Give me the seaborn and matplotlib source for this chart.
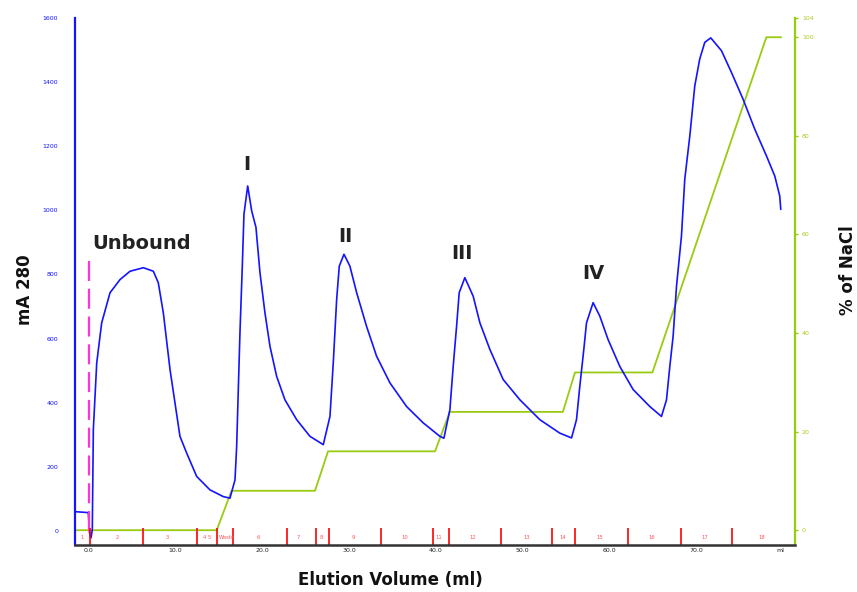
import numpy as np
import pandas as pd
import matplotlib
matplotlib.use("Agg")
import matplotlib.pyplot as plt
import seaborn as sns

sns.set_style("white")
plt.rcParams['font.family'] = ['DejaVu Sans']

# UV absorbance trace
uv_ml = [-1.49, 0.03, 0.17, 0.34, 0.49, 0.61, 1.00, 1.57, 2.53, 3.68, 4.83, 6.36, 7.51, 8.08,
         8.66, 9.43, 10.57, 11.34, 12.49, 14.02, 15.55, 16.32, 16.90, 17.09, 17.47, 17.74,
         17.93, 18.36, 18.82, 19.31, 19.77, 20.34, 20.92, 21.69, 22.64, 23.99, 25.52, 27.05,
         27.82, 28.20, 28.59, 28.89, 29.43, 30.11, 30.89, 32.03, 33.18, 34.71, 36.63, 38.54,
         40.46, 40.92, 41.61, 41.99, 42.38, 42.68, 43.33, 44.29, 45.06, 46.21, 47.74, 49.66,
         51.95, 54.25, 55.60, 56.17, 56.55, 57.01, 57.32, 58.08, 58.85, 59.80, 61.15, 62.68,
         64.60, 65.94, 66.52, 66.90, 67.28, 67.67, 68.24, 68.62, 69.20, 69.77, 70.34, 70.92,
         71.61, 72.84, 73.99, 75.32, 76.67, 78.01, 78.97, 79.54, 79.66]
uv_mau = [60, 57, -6, -22, 3, 316, 524, 649, 743, 784, 810, 821, 810, 774,
          680, 503, 295, 243, 170, 128, 107, 102, 159, 263, 618, 826,
          988, 1076, 998, 947, 806, 681, 576, 482, 409, 347, 295, 269,
          357, 524, 722, 826, 863, 826, 743, 638, 545, 462, 388, 337,
          295, 289, 378, 513, 638, 743, 790, 732, 649, 566, 472, 409,
          347, 305, 290, 347, 451, 566, 649, 712, 670, 597, 513, 441,
          388, 357, 409, 513, 607, 763, 920, 1097, 1232, 1388, 1472, 1524,
          1538, 1498, 1430, 1347, 1253, 1170, 1107, 1045, 1003]

# NaCl step gradient
nacl_ml = [-1.5, 14.8, 16.5, 26.1, 27.6, 39.9, 41.6, 54.6, 56.0, 64.9, 78.0, 79.7]
nacl_pct = [0, 0, 8, 8, 16, 16, 24, 24, 32, 32, 100, 100]

# fraction marks
frac_lines = [0.23, 6.29, 12.49, 14.86, 16.70, 22.84, 26.21, 27.70, 33.64, 39.62, 41.49,
              47.47, 53.30, 55.98, 62.07, 68.13, 74.02]
frac_names = ["1", "2", "3", "4", "5", "Waste", "6", "7", "8", "9", "10", "11", "12",
              "13", "14", "15", "16", "17", "18"]
frac_pos = [-0.72, 3.33, 9.08, 13.33, 13.94, 15.92, 19.54, 24.14, 26.78, 30.46, 36.44,
            40.34, 44.25, 50.46, 54.6, 58.85, 64.83, 70.92, 77.47]

peak_names = ["Unbound", "I", "II", "III", "IV"]
peak_ml = [6.2, 18.28, 29.54, 42.99, 58.16]
peak_mau = [898, 1142, 917, 864, 802]

inject_ml = 0.1
inject_top = 862

blue = "#1414ff"
green = "#99cc11"

uv_df = pd.DataFrame({"ml": uv_ml, "mau": uv_mau})
salt_df = pd.DataFrame({"ml": nacl_ml, "pct": nacl_pct})

fig = plt.figure(figsize=(8.57, 5.92), dpi=100)
ax = fig.add_axes([0.0875, 0.0794, 0.8402, 0.8902])
ax2 = ax.twinx()

sns.lineplot(data=salt_df, x="ml", y="pct", ax=ax2, color=green, lw=1.3,
             sort=False, estimator=None)
sns.lineplot(data=uv_df, x="ml", y="mau", ax=ax, color=blue, lw=1.2,
             sort=False, estimator=None)
ax.set_zorder(ax2.get_zorder() + 1)
ax.patch.set_visible(False)

ax.vlines(inject_ml, 0, inject_top, colors="#ff33dd", lw=1.6, linestyles=(0, (9, 3.5)))

ax.set_xlim(-1.5, 81.3)
ax.set_ylim(-44, 1600)
ax2.set_ylim(-3.0, 103.9)

# fraction collector marks
xt = ax.get_xaxis_transform()
ax.vlines(frac_lines, 0, 0.032, colors="red", lw=1.2, transform=xt)
for name, pos in zip(frac_names, frac_pos):
    ax.text(pos, 0.015, name, color="#ff5555", fontsize=3.8, ha="center", va="center",
            transform=xt)

for name, x, y in zip(peak_names, peak_ml, peak_mau):
    ax.text(x, y, name, fontsize=14, fontweight="bold", color="#222222",
            ha="center", va="center")

xticks = [0, 10, 20, 30, 40, 50, 60, 70, 79.6]
ax.set_xticks(xticks)
ax.set_xticklabels(["0.0", "10.0", "20.0", "30.0", "40.0", "50.0", "60.0", "70.0", "ml"])
ax.tick_params(axis="x", length=0, pad=2, labelsize=4.5, labelcolor="#222222")

ax.set_yticks(np.arange(0, 1601, 200))
ax.set_yticks([400, 800, 1200], minor=True)
ax.tick_params(axis="y", which="major", length=0, pad=12, labelsize=4.5, labelcolor=blue)
ax.tick_params(axis="y", which="minor", length=3, width=1.2, color=blue, direction="out")
ax2.set_yticks([0, 20, 40, 60, 80, 100, 103.9])
ax2.set_yticklabels(["0", "20", "40", "60", "80", "100", "104"])
ax2.tick_params(axis="y", length=2, width=1, color=green, pad=3, labelsize=4.5,
                labelcolor="#aacc22")

ax.set_xlabel("")
ax.set_ylabel("")
ax2.set_ylabel("")

for a in (ax, ax2):
    for side in ["top", "right", "left", "bottom"]:
        a.spines[side].set_visible(False)
ax.spines["left"].set_visible(True)
ax.spines["left"].set_color(blue)
ax.spines["left"].set_linewidth(1.6)
ax.spines["bottom"].set_visible(True)
ax.spines["bottom"].set_color("#333333")
ax.spines["bottom"].set_linewidth(1.8)
ax2.spines["right"].set_visible(True)
ax2.spines["right"].set_color(green)
ax2.spines["right"].set_linewidth(1.6)

fig.text(0.029, 0.51, "mA 280", rotation=90, fontsize=12, fontweight="bold",
         ha="center", va="center", color="#111111")
fig.text(0.9895, 0.544, "% of NaCl", rotation=90, fontsize=12, fontweight="bold",
         ha="center", va="center", color="#111111")
fig.text(0.456, 0.020, "Elution Volume (ml)", fontsize=12, fontweight="bold",
         ha="center", va="center", color="#111111")

fig.savefig("out.png", dpi=100)
